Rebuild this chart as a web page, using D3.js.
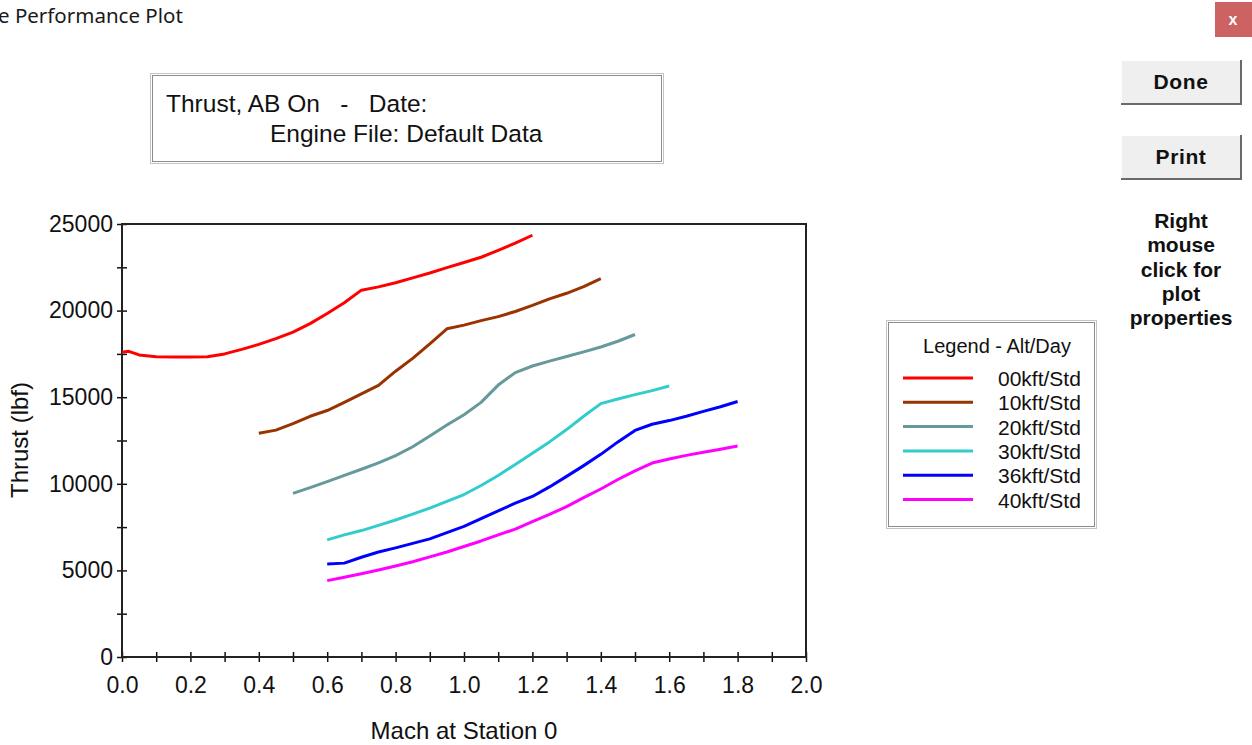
<!DOCTYPE html>
<html>
<head>
<meta charset="utf-8">
<script src="https://cdn.jsdelivr.net/npm/d3@7"></script>
<style>
  body { margin: 0; background: #fff; overflow: hidden; }
  svg { display: block; }
  text { font-family: "Liberation Sans", Arial, sans-serif; fill: #111; }
</style>
</head>
<body>
<svg id="chart" width="1252" height="745"></svg>
<script>
// series data: Mach number and thrust (lbf)
var seriesNames = ["00kft/Std", "10kft/Std", "20kft/Std", "30kft/Std", "36kft/Std", "40kft/Std"];
var seriesColors = ["#ff0000", "#993300", "#669999", "#33cccc", "#0000ff", "#ff00ff"];

var mach00 = [0.0, 0.02, 0.05, 0.1, 0.15, 0.2, 0.25, 0.3, 0.35, 0.4, 0.45, 0.5, 0.55, 0.6, 0.65, 0.7, 0.75, 0.8, 0.85, 0.9, 0.95, 1.0, 1.05, 1.1, 1.15, 1.2];
var thrust00 = [17600, 17650, 17440, 17340, 17320, 17320, 17340, 17500, 17760, 18050, 18380, 18760, 19250, 19830, 20450, 21180, 21370, 21610, 21890, 22170, 22480, 22780, 23080, 23480, 23900, 24350];

var mach10 = [0.4, 0.45, 0.5, 0.55, 0.6, 0.65, 0.7, 0.75, 0.8, 0.85, 0.9, 0.95, 1.0, 1.05, 1.1, 1.15, 1.2, 1.25, 1.3, 1.35, 1.4];
var thrust10 = [12920, 13100, 13470, 13900, 14230, 14700, 15190, 15680, 16500, 17240, 18080, 18950, 19160, 19420, 19650, 19950, 20300, 20680, 21000, 21380, 21850];

var mach20 = [0.5, 0.55, 0.6, 0.65, 0.7, 0.75, 0.8, 0.85, 0.9, 0.95, 1.0, 1.05, 1.1, 1.15, 1.2, 1.25, 1.3, 1.35, 1.4, 1.45, 1.5];
var thrust20 = [9450, 9780, 10130, 10490, 10840, 11210, 11630, 12140, 12760, 13390, 13990, 14700, 15700, 16420, 16800, 17080, 17350, 17620, 17900, 18230, 18620];

var mach30 = [0.6, 0.65, 0.7, 0.75, 0.8, 0.85, 0.9, 0.95, 1.0, 1.05, 1.1, 1.15, 1.2, 1.25, 1.3, 1.35, 1.4, 1.45, 1.5, 1.55, 1.6];
var thrust30 = [6760, 7050, 7300, 7600, 7910, 8250, 8600, 8980, 9380, 9900, 10480, 11120, 11760, 12420, 13130, 13900, 14630, 14900, 15150, 15380, 15650];

var mach36 = [0.6, 0.65, 0.7, 0.75, 0.8, 0.85, 0.9, 0.95, 1.0, 1.05, 1.1, 1.15, 1.2, 1.25, 1.3, 1.35, 1.4, 1.45, 1.5, 1.55, 1.6, 1.65, 1.7, 1.75, 1.8];
var thrust36 = [5370, 5420, 5760, 6060, 6300, 6560, 6820, 7180, 7540, 7990, 8440, 8880, 9270, 9820, 10430, 11050, 11700, 12420, 13080, 13440, 13650, 13900, 14180, 14450, 14750];

var mach40 = [0.6, 0.65, 0.7, 0.75, 0.8, 0.85, 0.9, 0.95, 1.0, 1.05, 1.1, 1.15, 1.2, 1.25, 1.3, 1.35, 1.4, 1.45, 1.5, 1.55, 1.6, 1.65, 1.7, 1.75, 1.8];
var thrust40 = [4410, 4600, 4810, 5020, 5250, 5500, 5780, 6060, 6380, 6700, 7050, 7380, 7820, 8230, 8680, 9200, 9700, 10250, 10750, 11200, 11430, 11640, 11820, 12000, 12180];

var xTickLabels = ["0.0", "0.2", "0.4", "0.6", "0.8", "1.0", "1.2", "1.4", "1.6", "1.8", "2.0"];
var yTickLabels = ["0", "5000", "10000", "15000", "20000", "25000"];

var machs = [mach00, mach10, mach20, mach30, mach36, mach40];
var thrusts = [thrust00, thrust10, thrust20, thrust30, thrust36, thrust40];
var series = seriesNames.map(function(name, i) {
  return { name: name, color: seriesColors[i],
    values: machs[i].map(function(m, j) { return { mach: m, thrust: thrusts[i][j] }; }) };
});

var svg = d3.select("#chart");
var plotL = 122, plotR = 806, plotT = 224, plotB = 657;

var x = d3.scaleLinear().domain([0, 2]).range([plotL, plotR]);
var y = d3.scaleLinear().domain([0, 25000]).range([plotB, plotT]);

// window title
svg.append("text")
  .attr("x", -2).attr("y", 23)
  .style("font-family", "'Noto Sans', 'Open Sans', sans-serif")
  .style("font-size", "20.5px")
  .style("fill", "#1a1a1a")
  .text("e Performance Plot");

// close button
svg.append("rect")
  .attr("x", 1215).attr("y", 2).attr("width", 37).attr("height", 35)
  .attr("fill", "#cc6262");
svg.append("text")
  .attr("x", 1233).attr("y", 25)
  .attr("text-anchor", "middle")
  .style("font-size", "16px").style("font-weight", "bold")
  .style("fill", "#fff")
  .text("x");

// buttons
function button(label, y0) {
  var g = svg.append("g");
  g.append("rect").attr("x", 1121).attr("y", y0).attr("width", 121).attr("height", 45)
    .attr("fill", "#efefef");
  g.append("path").attr("d", "M1121.5," + (y0 + 44.5) + "V" + (y0 + 0.5) + "H1241.5")
    .attr("fill", "none").attr("stroke", "#ffffff").attr("stroke-width", 1);
  g.append("path").attr("d", "M1121," + (y0 + 44) + "H1241V" + y0)
    .attr("fill", "none").attr("stroke", "#6a6a6a").attr("stroke-width", 2);
  g.append("text")
    .attr("x", 1181).attr("y", y0 + 29)
    .attr("text-anchor", "middle")
    .style("font-size", "21px").style("font-weight", "bold")
    .style("letter-spacing", "0.6px")
    .text(label);
}
button("Done", 60);
button("Print", 135);

var hint = ["Right", "mouse", "click for", "plot", "properties"];
svg.append("g").selectAll("text")
  .data(hint)
  .enter().append("text")
  .attr("x", 1181)
  .attr("y", function(d, i) { return 228 + i * 24.3; })
  .attr("text-anchor", "middle")
  .style("font-size", "21px").style("font-weight", "bold")
  .text(function(d) { return d; });

// title box
svg.append("rect").attr("x", 150.5).attr("y", 73.5).attr("width", 513).attr("height", 90)
  .attr("fill", "#fff").attr("stroke", "#c4c4c4").attr("stroke-width", 1);
svg.append("rect").attr("x", 152.5).attr("y", 75.5).attr("width", 509).attr("height", 86)
  .attr("fill", "none").attr("stroke", "#8c8c8c").attr("stroke-width", 1);
svg.append("text")
  .attr("x", 166).attr("y", 112)
  .attr("xml:space", "preserve")
  .style("white-space", "pre")
  .style("font-size", "24.5px")
  .text("Thrust, AB On   -   Date:");
svg.append("text")
  .attr("x", 270).attr("y", 142)
  .style("font-size", "24.5px")
  .text("Engine File: Default Data");

// axes
var xAxis = svg.append("g")
  .attr("transform", "translate(0," + plotB + ")")
  .call(d3.axisBottom(x)
    .tickValues(d3.range(0, 21).map(function(i) { return i / 10; }))
    .tickSizeOuter(0)
    .tickFormat(function(d, i) { return i % 2 === 0 ? xTickLabels[i / 2] : ""; }));
xAxis.select(".domain").remove();
xAxis.selectAll(".tick line").attr("y1", -5).attr("y2", 5).attr("stroke", "#111").attr("stroke-width", 1.5);
xAxis.selectAll(".tick text").attr("y", 20).attr("dy", "0.71em")
  .style("font-size", "23px").style("font-family", "'Liberation Sans', Arial, sans-serif").attr("fill", "#111");

var yAxis = svg.append("g")
  .attr("transform", "translate(" + plotL + ",0)")
  .call(d3.axisLeft(y)
    .tickValues(d3.range(0, 11).map(function(i) { return i * 2500; }))
    .tickSizeOuter(0)
    .tickFormat(function(d, i) { return i % 2 === 0 ? yTickLabels[i / 2] : ""; }));
yAxis.select(".domain").remove();
yAxis.selectAll(".tick line").attr("x1", -5).attr("x2", 5).attr("stroke", "#111").attr("stroke-width", 1.5);
yAxis.selectAll(".tick text").attr("x", -9)
  .style("font-size", "23px").style("font-family", "'Liberation Sans', Arial, sans-serif").attr("fill", "#111");

// plot frame
svg.append("path")
  .attr("d", "M" + plotL + "," + plotT + "V" + plotB + "H" + plotR + "V" + plotT + "Z")
  .attr("fill", "none").attr("stroke", "#222").attr("stroke-width", 2);

// axis titles
svg.append("text")
  .attr("transform", "translate(" + 28 + "," + 440 + ") rotate(-90)")
  .attr("text-anchor", "middle")
  .style("font-size", "24px")
  .text("Thrust (lbf)");
svg.append("text")
  .attr("x", 464).attr("y", 739)
  .attr("text-anchor", "middle")
  .style("font-size", "24px")
  .text("Mach at Station 0");

// curves
var line = d3.line()
  .x(function(d) { return x(d.mach); })
  .y(function(d) { return y(d.thrust); });

svg.append("g").selectAll("path")
  .data(series)
  .enter().append("path")
  .attr("d", function(d) { return line(d.values); })
  .attr("fill", "none")
  .attr("stroke", function(d) { return d.color; })
  .attr("stroke-width", 3)
  .attr("stroke-linejoin", "round");

// legend
var legend = svg.append("g");
legend.append("rect").attr("x", 886.5).attr("y", 320.5).attr("width", 210).attr("height", 208)
  .attr("fill", "#fff").attr("stroke", "#c4c4c4");
legend.append("rect").attr("x", 888.5).attr("y", 322.5).attr("width", 206).attr("height", 204)
  .attr("fill", "none").attr("stroke", "#8c8c8c");
legend.append("text")
  .attr("x", 997).attr("y", 353)
  .attr("text-anchor", "middle")
  .style("font-size", "20px")
  .text("Legend - Alt/Day");
var rows = legend.selectAll(".row")
  .data(series)
  .enter().append("g")
  .attr("class", "row")
  .attr("transform", function(d, i) { return "translate(0," + (378 + i * 24.3) + ")"; });
rows.append("line")
  .attr("x1", 903).attr("x2", 973)
  .attr("stroke", function(d) { return d.color; })
  .attr("stroke-width", 3);
rows.append("text")
  .attr("x", 998).attr("y", 8)
  .style("font-size", "21px")
  .text(function(d) { return d.name; });
</script>
</body>
</html>
